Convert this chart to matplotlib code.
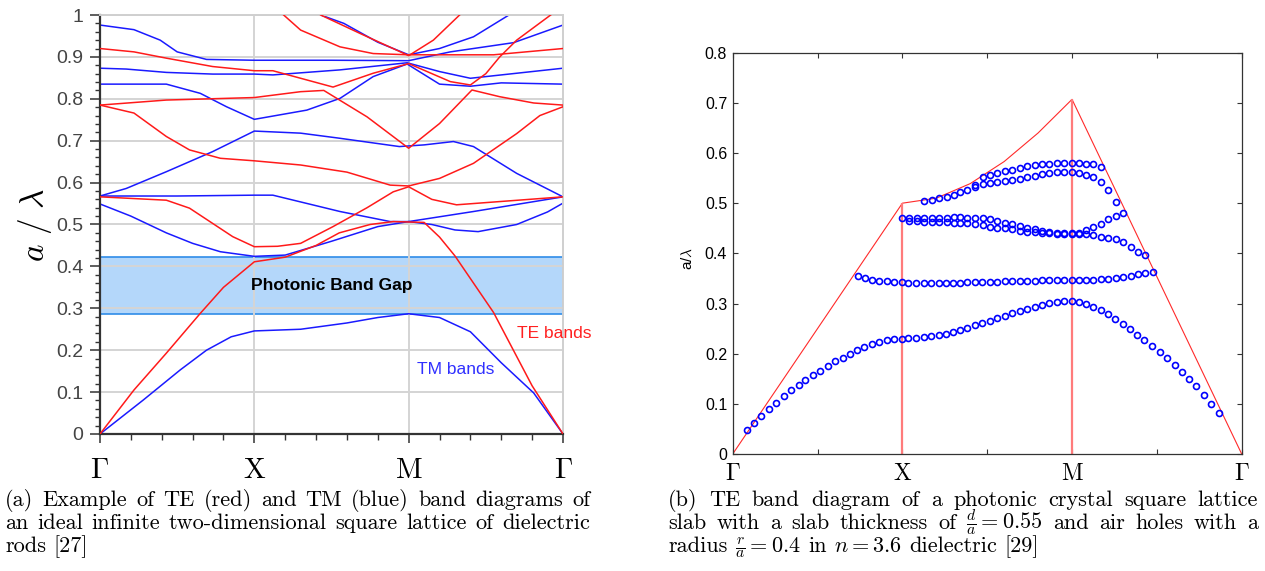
import numpy as np
import matplotlib
matplotlib.use('Agg')
import matplotlib.pyplot as plt
from matplotlib.ticker import MultipleLocator, FixedLocator

plt.rcParams['mathtext.fontset'] = 'cm'

W, H = 1265, 571

# ---------------- (a) 2D rods: path coordinate G=0, X=1, M=2, G=3 ----------------
te1_k = [0, 0.22, 0.43, 0.65, 0.8, 1.0, 1.2, 1.4, 1.55, 1.75, 1.9, 2.1, 2.2, 2.3, 2.55, 2.8, 3.0]
te1_f = [0, 0.105, 0.193, 0.288, 0.35, 0.411, 0.422, 0.45, 0.48, 0.50, 0.507, 0.505, 0.47, 0.425, 0.29, 0.115, 0]
te2_k = [0, 0.43, 0.58, 0.86, 1.0, 1.15, 1.3, 1.51, 1.73, 1.9, 2.0, 2.15, 2.31, 2.6, 3.0]
te2_f = [0.566, 0.558, 0.539, 0.471, 0.447, 0.448, 0.455, 0.495, 0.54, 0.578, 0.59, 0.56, 0.547, 0.555, 0.566]
te3_k = [0, 0.22, 0.43, 0.58, 0.78, 1.0, 1.3, 1.6, 1.88, 2.0, 2.2, 2.42, 2.7, 2.85, 3.0]
te3_f = [0.785, 0.766, 0.71, 0.678, 0.658, 0.652, 0.642, 0.625, 0.594, 0.592, 0.61, 0.646, 0.717, 0.76, 0.781]
te4_k = [0, 0.43, 1.0, 1.3, 1.45, 1.73, 2.0, 2.2, 2.41, 2.59, 2.81, 3.0]
te4_f = [0.785, 0.797, 0.803, 0.817, 0.82, 0.757, 0.682, 0.741, 0.821, 0.805, 0.79, 0.785]
te5_k = [0, 0.22, 0.43, 0.73, 1.0, 1.12, 1.51, 1.77, 2.0, 2.27, 2.4, 2.5, 2.59, 2.7, 2.92]
te5_f = [0.92, 0.912, 0.897, 0.877, 0.867, 0.867, 0.828, 0.861, 0.884, 0.841, 0.833, 0.86, 0.90, 0.94, 1.0]
te6_k = [1.19, 1.3, 1.555, 1.77, 2.0, 2.55, 3.0]
te6_f = [1.0, 0.964, 0.924, 0.908, 0.905, 0.905, 0.92]
te7_k = [1.43, 1.685, 2.0, 2.16, 2.33]
te7_f = [1.0, 0.956, 0.903, 0.94, 1.0]

tm1_k = [0, 0.28, 0.52, 0.69, 0.85, 1.0, 1.3, 1.6, 1.8, 2.0, 2.2, 2.4, 2.6, 2.81, 3.0]
tm1_f = [0, 0.081, 0.153, 0.2, 0.232, 0.246, 0.25, 0.265, 0.278, 0.287, 0.278, 0.244, 0.17, 0.098, 0]
tm2_k = [0, 0.2, 0.43, 0.6, 0.78, 1.0, 1.2, 1.5, 1.8, 2.0, 2.15, 2.3, 2.45, 2.7, 2.9, 3.0]
tm2_f = [0.549, 0.52, 0.48, 0.455, 0.435, 0.424, 0.427, 0.46, 0.495, 0.507, 0.5, 0.487, 0.483, 0.5, 0.53, 0.551]
tm3_k = [0, 0.5, 1.0, 1.12, 1.555, 1.88, 2.0, 2.42, 3.0]
tm3_f = [0.568, 0.568, 0.57, 0.57, 0.531, 0.507, 0.507, 0.531, 0.566]
tm4_k = [0, 0.17, 0.43, 0.73, 1.0, 1.3, 1.55, 1.94, 2.1, 2.29, 2.42, 2.7, 3.0]
tm4_f = [0.568, 0.586, 0.626, 0.674, 0.723, 0.718, 0.706, 0.686, 0.69, 0.698, 0.686, 0.622, 0.566]
tm5_k = [0, 0.43, 0.65, 0.82, 1.0, 1.34, 1.555, 1.77, 1.99, 2.2, 2.4, 2.6, 3.0]
tm5_f = [0.835, 0.835, 0.813, 0.781, 0.751, 0.773, 0.801, 0.853, 0.883, 0.835, 0.83, 0.838, 0.835]
tm6_k = [0, 0.17, 0.43, 0.73, 1.0, 1.12, 1.555, 1.99, 2.2, 2.4, 2.6, 3.0]
tm6_f = [0.873, 0.871, 0.863, 0.859, 0.859, 0.857, 0.869, 0.886, 0.865, 0.849, 0.857, 0.873]
tm7_k = [0, 0.22, 0.39, 0.5, 0.69, 1.0, 1.5, 2.0, 2.27, 2.68, 3.0]
tm7_f = [0.976, 0.965, 0.94, 0.912, 0.894, 0.892, 0.892, 0.891, 0.912, 0.934, 0.976]
tm8_k = [1.43, 1.58, 1.8, 2.0, 2.2, 2.42, 2.65]
tm8_f = [1.0, 0.98, 0.935, 0.905, 0.92, 0.948, 1.0]

gap_lo, gap_hi = 0.286, 0.423

# ---------------- (b) slab TE bands ----------------
light_k = [0, 1.0, 1.2, 1.4, 1.6, 1.8, 2.0, 3.0]
light_f = [0, 0.5, 0.51, 0.539, 0.583, 0.64, 0.707, 0]

b1_k = [0.083, 0.126, 0.169, 0.214, 0.257, 0.30, 0.345, 0.388, 0.429, 0.472, 0.517, 0.56,
        0.604, 0.649, 0.692, 0.733, 0.776, 0.821, 0.864, 0.907, 0.952, 0.995, 1.036, 1.08,
        1.125, 1.168, 1.213, 1.256, 1.3, 1.339, 1.383, 1.428, 1.472, 1.516, 1.56, 1.605,
        1.648, 1.693, 1.736, 1.779, 1.823, 1.866, 1.909, 1.952, 1.997, 2.04, 2.08, 2.124,
        2.169, 2.212, 2.255, 2.3, 2.343, 2.384, 2.427, 2.473, 2.516, 2.559, 2.604, 2.647,
        2.688, 2.731, 2.777, 2.82, 2.865]
b1_f = [0.048, 0.061, 0.076, 0.09, 0.102, 0.116, 0.128, 0.138, 0.147, 0.157, 0.166, 0.175,
        0.185, 0.192, 0.2, 0.207, 0.213, 0.219, 0.224, 0.227, 0.23, 0.23, 0.232, 0.232,
        0.234, 0.236, 0.238, 0.24, 0.243, 0.247, 0.252, 0.257, 0.261, 0.265, 0.271, 0.276,
        0.281, 0.285, 0.29, 0.294, 0.298, 0.301, 0.304, 0.305, 0.306, 0.304, 0.3, 0.293,
        0.287, 0.279, 0.27, 0.26, 0.249, 0.238, 0.227, 0.216, 0.203, 0.192, 0.178, 0.164,
        0.15, 0.135, 0.117, 0.1, 0.082]

b2_k = [0.736, 0.78, 0.821, 0.864, 0.907, 0.952, 0.995, 1.036, 1.08, 1.125, 1.168, 1.213,
        1.256, 1.3, 1.339, 1.383, 1.428, 1.472, 1.516, 1.56, 1.605, 1.648, 1.693, 1.736,
        1.779, 1.823, 1.866, 1.909, 1.952, 1.997, 2.04, 2.082, 2.125, 2.17, 2.212, 2.257,
        2.302, 2.345, 2.386, 2.43, 2.475]
b2_f = [0.355, 0.35, 0.347, 0.345, 0.344, 0.342, 0.342, 0.341, 0.341, 0.341, 0.341, 0.341,
        0.341, 0.341, 0.34, 0.342, 0.343, 0.343, 0.343, 0.343, 0.345, 0.345, 0.345, 0.345,
        0.345, 0.346, 0.347, 0.347, 0.347, 0.347, 0.347, 0.347, 0.347, 0.349, 0.349, 0.35,
        0.353, 0.355, 0.358, 0.36, 0.362]

b3_k = [0.996, 1.041, 1.084, 1.129, 1.173, 1.217, 1.261, 1.304, 1.339, 1.383, 1.428, 1.473,
        1.516, 1.56, 1.605, 1.648, 1.693, 1.736, 1.779, 1.823, 1.866, 1.909, 1.952, 1.997,
        2.04, 2.082, 2.125, 2.17, 2.212, 2.257, 2.302]
b3_f = [0.47, 0.47, 0.47, 0.471, 0.471, 0.471, 0.471, 0.473, 0.473, 0.471, 0.471, 0.47,
        0.468, 0.465, 0.461, 0.458, 0.454, 0.451, 0.448, 0.445, 0.442, 0.441, 0.44, 0.44,
        0.441, 0.446, 0.453, 0.459, 0.468, 0.474, 0.481]

b4_k = [1.041, 1.084, 1.129, 1.173, 1.217, 1.261, 1.304, 1.339, 1.383, 1.428, 1.473, 1.516,
        1.56, 1.605, 1.648, 1.693, 1.736, 1.779, 1.823, 1.866, 1.909, 1.952, 1.997, 2.04,
        2.082, 2.125, 2.17, 2.212, 2.257, 2.302, 2.345, 2.386, 2.43]
b4_f = [0.465, 0.465, 0.463, 0.463, 0.462, 0.462, 0.461, 0.461, 0.46, 0.458, 0.456, 0.453,
        0.451, 0.45, 0.448, 0.445, 0.443, 0.442, 0.441, 0.44, 0.438, 0.438, 0.438, 0.438,
        0.438, 0.436, 0.433, 0.43, 0.428, 0.423, 0.413, 0.403, 0.396]

b5_k = [1.129, 1.173, 1.217, 1.261, 1.304, 1.339, 1.383, 1.428, 1.473, 1.516, 1.56, 1.605,
        1.648, 1.693, 1.736, 1.779, 1.823, 1.866, 1.909, 1.952, 1.997, 2.04, 2.082, 2.125, 2.17]
b5_f = [0.505, 0.506, 0.511, 0.513, 0.517, 0.523, 0.527, 0.533, 0.552, 0.556, 0.56, 0.564,
        0.567, 0.571, 0.574, 0.576, 0.578, 0.579, 0.58, 0.58, 0.58, 0.58, 0.579, 0.578, 0.572]

b6_k = [1.428, 1.473, 1.516, 1.56, 1.605, 1.648, 1.693, 1.736, 1.779, 1.823, 1.866, 1.909,
        1.952, 1.997, 2.04, 2.082, 2.125, 2.17, 2.212, 2.257]
b6_f = [0.536, 0.538, 0.54, 0.542, 0.544, 0.546, 0.549, 0.552, 0.554, 0.558, 0.56, 0.562,
        0.562, 0.562, 0.56, 0.557, 0.552, 0.542, 0.527, 0.503]


fig = plt.figure(figsize=(W / 100, H / 100), dpi=100)

# ================= panel (a) =================
ax1 = fig.add_axes([100 / W, 1 - 434 / H, 463 / W, 419 / H])
ax1.set_xlim(0, 3)
ax1.set_ylim(0, 1)
ax1.set_axisbelow(True)
ax1.axhspan(gap_lo, gap_hi, facecolor='#b4d7fa', edgecolor='#2f8ce8', lw=1.2, zorder=0.3)

red, blue = '#ff1a1a', '#1a1aff'
for k, f in [(te1_k, te1_f), (te2_k, te2_f), (te3_k, te3_f), (te4_k, te4_f),
             (te5_k, te5_f), (te6_k, te6_f), (te7_k, te7_f)]:
    ax1.plot(k, f, color=red, lw=1.1, zorder=3)
for k, f in [(tm1_k, tm1_f), (tm2_k, tm2_f), (tm3_k, tm3_f), (tm4_k, tm4_f),
             (tm5_k, tm5_f), (tm6_k, tm6_f), (tm7_k, tm7_f), (tm8_k, tm8_f)]:
    ax1.plot(k, f, color=blue, lw=1.1, zorder=2.5)

ax1.text(1.5, (gap_lo + gap_hi) / 2, 'Photonic Band Gap', ha='center', va='center',
         fontsize=12.5, fontweight='bold', family='Liberation Sans')
ax1.text(2.70, 0.241, 'TE bands', color='#ff2020', fontsize=12.5, family='Liberation Sans',
         va='center')
ax1.text(2.055, 0.155, 'TM bands', color='#3030ff', fontsize=12.5, family='Liberation Sans',
         va='center')

ax1.yaxis.set_major_locator(MultipleLocator(0.1))
ax1.yaxis.set_minor_locator(MultipleLocator(0.02))
ax1.set_yticklabels(['%g' % v for v in np.round(ax1.get_yticks(), 1)])
ax1.xaxis.set_major_locator(FixedLocator([0, 1, 2, 3]))
ax1.xaxis.set_minor_locator(MultipleLocator(0.2))
ax1.set_xticklabels([r'$\Gamma$', r'$\mathrm{X}$', r'$\mathrm{M}$', r'$\Gamma$'], fontsize=21)
for lab in ax1.get_yticklabels():
    lab.set_family('Liberation Sans')
    lab.set_fontsize(14)
    lab.set_color('#444444')
ax1.tick_params(axis='y', which='major', length=7, width=1.1, color='#333333', pad=5)
ax1.tick_params(axis='y', which='minor', length=3.5, width=1.0, color='#333333')
ax1.tick_params(axis='x', which='major', length=6.5, width=1.1, color='#333333', pad=9)
ax1.tick_params(axis='x', which='minor', length=4.5, width=1.0, color='#333333')
ax1.grid(True, which='major', color='#d4d4d4', lw=1.4)
ax1.xaxis.grid(False)
for xg in [1, 2]:
    ax1.axvline(xg, color='#d4d4d4', lw=1.4, zorder=0.5)
for s in ['left', 'bottom']:
    ax1.spines[s].set_color('#333333')
    ax1.spines[s].set_linewidth(1.6)
for s in ['top', 'right']:
    ax1.spines[s].set_color('#cfcfcf')
    ax1.spines[s].set_linewidth(1.4)

fig.text(35 / W, 1 - 225 / H, r'$a\ /\ \lambda$', rotation=90, fontsize=24,
         ha='center', va='center')

# ================= panel (b) =================
ax2 = fig.add_axes([732.7 / W, 1 - 454 / H, 509 / W, 401.3 / H])
ax2.set_xlim(0, 3)
ax2.set_ylim(0, 0.8)
ax2.plot(light_k, light_f, color='#ff2a2a', lw=0.8, zorder=2)
ax2.vlines([light_k[1], light_k[6]], 0, [light_f[1], light_f[6]], color='#ff7b7b', lw=1.6, zorder=2)
for k, f in [(b1_k, b1_f), (b2_k, b2_f), (b3_k, b3_f), (b4_k, b4_f), (b5_k, b5_f), (b6_k, b6_f)]:
    ax2.plot(k, f, ls='none', marker='o', ms=4.3, mfc='none', mec='#0000ff', mew=1.2, zorder=3)

ax2.set_yticks(np.arange(0, 0.81, 0.1))
ax2.set_yticklabels(['%g' % v for v in np.round(np.arange(0, 0.81, 0.1), 1)])
ax2.set_xticks([0, 0.5, 1, 1.5, 2, 2.5, 3])
ax2.set_xticklabels([r'$\Gamma$', '', r'$\mathrm{X}$', '', r'$\mathrm{M}$', '', r'$\Gamma$'],
                    fontsize=17)
for lab in ax2.get_yticklabels():
    lab.set_family('Liberation Sans')
    lab.set_fontsize(11.5)
ax2.tick_params(direction='in', length=3.5, width=0.8, top=True, right=True, color='#333333')
ax2.tick_params(axis='x', pad=5)
ax2.tick_params(axis='y', pad=4)
for s in ax2.spines.values():
    s.set_color('#333333')
    s.set_linewidth(0.9)
fig.text(688 / W, 1 - 258 / H, r'a/$\lambda$', rotation=90, fontsize=11,
         family='Liberation Sans', ha='center', va='center')

# ================= captions =================
renderer = fig.canvas.get_renderer()


def justified(words, x0, x1, yb, size, last=False):
    txts = [fig.text(0, 1 - yb / H, w, fontsize=size, family='cmr10', va='baseline')
            for w in words]
    widths = [t.get_window_extent(renderer).width for t in txts]
    if last:
        gap = size * 100 / 72 * 0.333
    else:
        gap = (x1 - x0 - sum(widths)) / (len(words) - 1)
    x = x0
    for t, w in zip(txts, widths):
        t.set_x(x / W)
        x += w + gap


cap_size = 16
justified('(a) Example of TE (red) and TM (blue) band diagrams of'.split(), 5, 590, 506, cap_size)
justified('an ideal infinite two-dimensional square lattice of dielectric'.split(), 5, 590, 529, cap_size)
justified(['rods', '[27]'], 5, 590, 552, cap_size, last=True)

justified('(b) TE band diagram of a photonic crystal square lattice'.split(), 668, 1258, 506, cap_size)
justified(['slab', 'with', 'a', 'slab', 'thickness', 'of', r'$\frac{d}{a}=0.55$', 'and', 'air',
           'holes', 'with', 'a'], 668, 1258, 529, cap_size)
justified(['radius', r'$\frac{r}{a}=0.4$', 'in', r'$n=3.6$', 'dielectric', '[29]'],
          668, 1258, 552, cap_size, last=True)

fig.savefig('out.png', dpi=100)
